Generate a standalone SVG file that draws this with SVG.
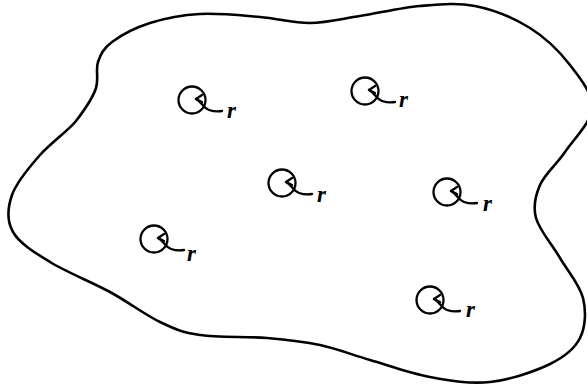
<svg xmlns="http://www.w3.org/2000/svg" xmlns:xlink="http://www.w3.org/1999/xlink" width="587" height="385" viewBox="0 0 587 385">
<style>
.bg{fill:#ffffff}
.blob{fill:none;stroke:#000;stroke-width:2.6;stroke-linejoin:round}
.ring{fill:none;stroke:#000;stroke-width:2.3}
.tail{fill:none;stroke:#000;stroke-width:2.3;stroke-linecap:round;stroke-linejoin:round}
.lbl{font-family:"Liberation Serif","DejaVu Serif",serif;font-style:italic;font-weight:bold;font-size:23px;fill:#000}
</style>
<defs>
<g id="probe">
<circle class="ring" cx="0" cy="0" r="13.5"/>
<path class="tail" d="M4,-1 C10,2 11,8 17,10 S25,12 30,11"/>
<path class="tail" d="M10,-5 L4,-1 L10,2"/>
</g>
</defs>
<rect class="bg" x="0" y="0" width="587" height="385"/>
<g id="region">
<path class="blob" d="M98,62 C100.67,54.33 103.33,48.5 112,42 C120.67,35.5 135.33,27.67 150,23 C164.67,18.33 181.67,15 200,14 C218.33,13 241.67,15.5 260,17 C278.330,18.5 293.33,23.17 310,23 C326.67,22.83 341.67,18.83 360,16 C378.33,13.17 400.83,7.67 420,6 C439.17,4.33 456.67,2.33 475,6 C493.33,9.67 514.17,18.17 530,28 C545.83,37.83 559.67,51.67 570,65 C580.33,78.33 592.83,93.5 592,108 C591.17,122.5 573.67,139.17 565,152 C556.33,164.83 544.83,174 540,185 C535.17,196 532.67,205.83 536,218 C539.33,230.17 552.17,244.67 560,258 C567.83,271.33 579.67,284.67 583,298 C586.33,311.33 585.5,327 580,338 C574.5,349 565,356.67 550,364 C535,371.33 510,379.83 490,382 C470,384.17 450,380.67 430,377 C410,373.33 388.33,365.33 370,360 C351.67,354.67 337.17,348.67 320,345 C302.83,341.33 287,339.67 267,338 C247,336.33 217.83,337.67 200,335 C182.17,332.33 175,329.17 160,322 C145,314.83 128.33,302 110,292 C91.67,282 66.17,272 50,262 C33.83,252 19.33,243.17 13,232 C6.67,220.83 7.5,207.83 12,195 C16.5,182.17 28.67,167.83 40,155 C51.33,142.17 68,131 76,121 C86,108 93,97.33 96,88 C99,78.67 95.33,69.67 98,62 Z"/>
</g>
<g id="n1"><use xlink:href="#probe" href="#probe" x="192" y="100"/><text class="lbl" x="227" y="118">r</text></g>
<g id="n2"><use xlink:href="#probe" href="#probe" x="365" y="91"/><text class="lbl" x="399" y="107">r</text></g>
<g id="n3"><use xlink:href="#probe" href="#probe" x="282" y="183"/><text class="lbl" x="317" y="202">r</text></g>
<g id="n4"><use xlink:href="#probe" href="#probe" x="447" y="192"/><text class="lbl" x="483" y="211">r</text></g>
<g id="n5"><use xlink:href="#probe" href="#probe" x="154" y="239"/><text class="lbl" x="187" y="261">r</text></g>
<g id="n6"><use xlink:href="#probe" href="#probe" x="430" y="300"/><text class="lbl" x="466" y="317">r</text></g>
</svg>
